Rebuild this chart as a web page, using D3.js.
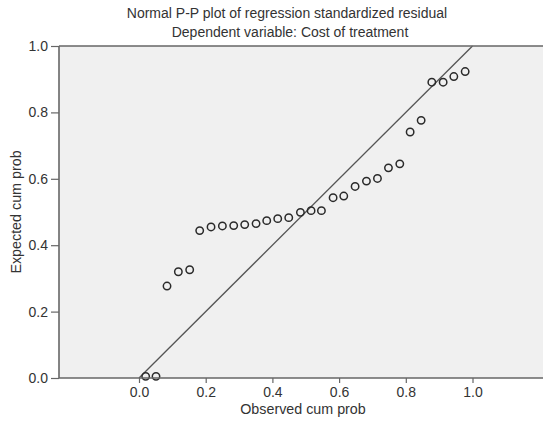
<!DOCTYPE html>
<html><head><meta charset="utf-8">
<script src="https://cdn.jsdelivr.net/npm/d3@7"></script>
<style>
body{margin:0;background:#fff;}
text{font-family:"Liberation Sans",Arial,sans-serif;fill:#333;}
</style></head>
<body><svg id="c" width="543" height="421"></svg>
<script>
const titleLines = ["Normal P-P plot of regression standardized residual", "Dependent variable: Cost of treatment"];
const xLabel = "Observed cum prob";
const yLabel = "Expected cum prob";
const observed = [0.020,0.051,0.084,0.118,0.152,0.182,0.216,0.250,0.284,0.317,0.351,0.383,0.416,0.449,0.484,0.516,0.547,0.582,0.614,0.648,0.682,0.715,0.748,0.782,0.813,0.846,0.878,0.912,0.944,0.978];
const expected = [0.005,0.005,0.277,0.320,0.326,0.444,0.455,0.458,0.459,0.462,0.465,0.474,0.480,0.483,0.499,0.504,0.504,0.543,0.548,0.577,0.593,0.601,0.633,0.645,0.741,0.776,0.891,0.891,0.908,0.923];
const xTicks = [0.0,0.2,0.4,0.6,0.8,1.0];
const yTicks = [0.0,0.2,0.4,0.6,0.8,1.0];
const refLine = [[0,0],[1,1]];

const svg = d3.select("#c");
const L = 59, R = 545, T = 46, B = 378;
const x = d3.scaleLinear().domain([0,1]).range([139, 472.5]);
const y = d3.scaleLinear().domain([0,1]).range([B, T]);

svg.append("rect").attr("x",L).attr("y",T).attr("width",R-L).attr("height",B-T).attr("fill","#f0f0f0");

// reference line
svg.append("line")
  .attr("x1",x(refLine[0][0])).attr("y1",y(refLine[0][1]))
  .attr("x2",x(refLine[1][0])).attr("y2",y(refLine[1][1]))
  .attr("stroke","#555").attr("stroke-width",1.3);

// points
svg.append("g").selectAll("circle").data(observed).join("circle")
  .attr("cx",(d)=>x(d)).attr("cy",(d,i)=>y(expected[i])).attr("r",3.7)
  .attr("fill","none").attr("stroke","#2a2a2a").attr("stroke-width",1.5);

// axes
const yAxis = svg.append("g").attr("transform",`translate(${L},0)`)
  .call(d3.axisLeft(y).tickValues(yTicks).tickFormat(d3.format(".1f")).tickSize(8).tickPadding(3));
const xAxis = svg.append("g").attr("transform",`translate(0,${B})`)
  .call(d3.axisBottom(x).tickValues(xTicks).tickFormat(d3.format(".1f")).tickSize(5).tickPadding(4));
[yAxis,xAxis].forEach(g=>{
  g.select(".domain").remove();
  g.selectAll("line").attr("stroke","#666").attr("stroke-width",1.2);
  g.selectAll("text").attr("font-size",14).attr("fill","#333").style("font-family","Liberation Sans, Arial, sans-serif");
});
// frame lines
svg.append("line").attr("x1",L).attr("x2",L).attr("y1",T).attr("y2",B).attr("stroke","#666").attr("stroke-width",1.6);
svg.append("line").attr("x1",L).attr("x2",R).attr("y1",B).attr("y2",B).attr("stroke","#666").attr("stroke-width",1.6);
svg.append("line").attr("x1",L).attr("x2",R).attr("y1",T).attr("y2",T).attr("stroke","#666").attr("stroke-width",1.6);

// titles
svg.append("text").attr("x",287).attr("y",18).attr("text-anchor","middle").attr("font-size",14).text(titleLines[0]);
svg.append("text").attr("x",290).attr("y",37).attr("text-anchor","middle").attr("font-size",14).text(titleLines[1]);
svg.append("text").attr("x",303).attr("y",414).attr("text-anchor","middle").attr("font-size",14.3).text(xLabel);
svg.append("text").attr("transform","translate(21,212) rotate(-90)").attr("text-anchor","middle").attr("font-size",14.3).text(yLabel);
</script></body></html>
